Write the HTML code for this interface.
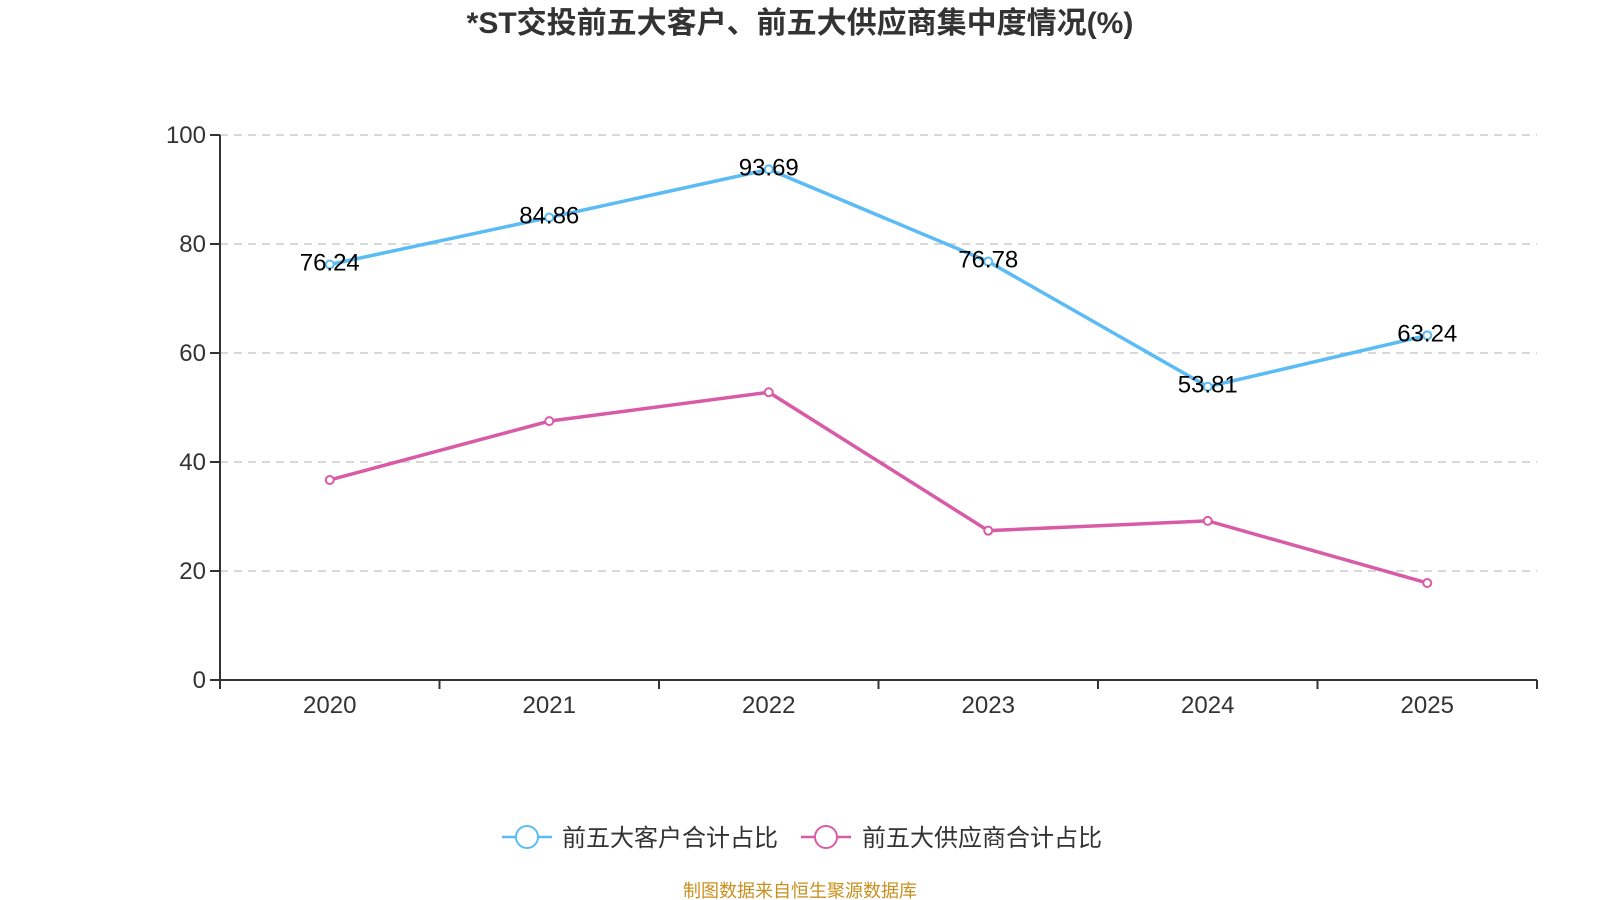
<!DOCTYPE html>
<html><head><meta charset="utf-8"><style>
body{margin:0;background:#fff;}
svg{display:block;font-family:"Liberation Sans","Noto Sans CJK SC",sans-serif;}
</style></head><body>
<svg id="c" width="1600" height="900">
<text x="800" y="33" text-anchor="middle" font-size="30" font-weight="bold" fill="#333">*ST交投前五大客户、前五大供应商集中度情况(%)</text>
<g id="grid"></g><g id="axes"></g><g id="series"></g>
<g>
<g>
<line x1="502" y1="837" x2="552" y2="837" stroke="#5bbcf5" stroke-width="2.5"/>
<circle cx="527" cy="837" r="11" fill="#fff" stroke="#5bbcf5" stroke-width="2"/>
<text x="562" y="846" font-size="24" fill="#333">前五大客户合计占比</text></g>
<g>
<line x1="801" y1="837" x2="851" y2="837" stroke="#d85ba7" stroke-width="2.5"/>
<circle cx="826" cy="837" r="11" fill="#fff" stroke="#d85ba7" stroke-width="2"/>
<text x="862" y="846" font-size="24" fill="#333">前五大供应商合计占比</text></g>
</g>
<text x="800" y="897" text-anchor="middle" font-size="18" fill="#c8901e">制图数据来自恒生聚源数据库</text>
</svg>
<script>
const categories=["2020","2021","2022","2023","2024","2025"];
const customerValues=[76.24,84.86,93.69,76.78,53.81,63.24];
const supplierValues=[36.7,47.5,52.8,27.4,29.2,17.8];
const yTicks=[0,20,40,60,80,100];
const NS="http://www.w3.org/2000/svg";
const X0=220,X1=1537,Y0=680,Y1=135;
const bw=(X1-X0)/categories.length;
const xs=i=>X0+bw*(i+0.5);
const ys=v=>Y0-(v/100)*(Y0-Y1);
function mk(tag,attrs,parent,txt){const e=document.createElementNS(NS,tag);for(const k in attrs)e.setAttribute(k,attrs[k]);if(txt!==undefined)e.textContent=txt;parent.appendChild(e);return e;}
const grid=document.getElementById('grid'),axes=document.getElementById('axes'),ser=document.getElementById('series');
yTicks.forEach(t=>{
 const y=ys(t);
 if(t>0){const g=mk('line',{x1:X0,x2:X1,y1:y,y2:y,stroke:'#ccc','stroke-width':1.5,'stroke-dasharray':'8,6'},grid);
 
 }
 mk('line',{x1:X0-10,x2:X0,y1:y,y2:y,stroke:'#333','stroke-width':2},axes);
 const l=mk('text',{x:X0-14,y:y+8,'text-anchor':'end','font-size':24,fill:'#333'},axes,t);
 
 
});
const ya=mk('line',{x1:X0,x2:X0,y1:Y1,y2:Y0,stroke:'#333','stroke-width':2},axes);


const xa=mk('line',{x1:X0,x2:X1,y1:Y0,y2:Y0,stroke:'#333','stroke-width':2},axes);


for(let i=0;i<=categories.length;i++){const x=X0+bw*i;mk('line',{x1:x,x2:x,y1:Y0,y2:Y0+9,stroke:'#333','stroke-width':2},axes);}
categories.forEach((c,i)=>{
 const l=mk('text',{x:xs(i),y:Y0+33,'text-anchor':'middle','font-size':24,fill:'#333'},axes,c);
 
 
});
function series(vals,color,name,labels){
 const g=mk('g',{},ser);
 
 
 const p=mk('polyline',{points:vals.map((v,i)=>xs(i)+','+ys(v)).join(' '),fill:'none',stroke:color,'stroke-width':3.5},g);
 
 
 vals.forEach((v,i)=>{
  const c=mk('circle',{cx:xs(i),cy:ys(v),r:4,fill:'#fff',stroke:color,'stroke-width':2},g);
  
  
  if(labels){const t=mk('text',{x:xs(i),y:ys(v)+6,'text-anchor':'middle','font-size':24,fill:'#000'},g,v.toFixed(2));
  
  }
 });
}
series(supplierValues,'#d85ba7','supplier-series',false);
series(customerValues,'#5bbcf5','customer-series',true);
</script>
</body></html>
